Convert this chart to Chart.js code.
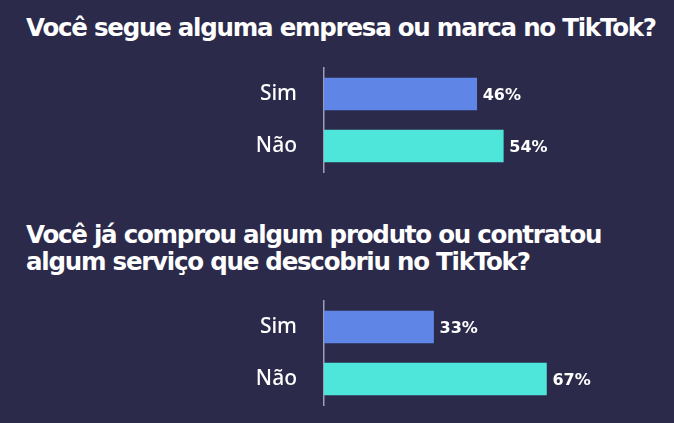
<!DOCTYPE html>
<html><head><meta charset="utf-8">
<script src="https://cdn.jsdelivr.net/npm/chart.js@4"></script>
<style>
html,body{margin:0;padding:0;background:#2c2a4b;width:674px;height:423px;overflow:hidden}
.t{position:absolute;left:26px;color:#ffffff;font-family:'DejaVu Sans';font-weight:bold;white-space:nowrap}
.w{position:absolute;left:0;width:674px;height:120px}
</style></head><body>
<div id="t1" class="t"></div>
<div id="t2" class="t"></div>
<div class="w" style="top:60px"><canvas id="c1"></canvas></div>
<div class="w" style="top:293px"><canvas id="c2"></canvas></div>
<script>
const title1 = ['Você segue alguma empresa ou marca no TikTok?'];
const title2 = ['Você já comprou algum produto ou contratou', 'algum serviço que descobriu no TikTok?'];
const categories = ['Sim', 'Não'];
const values1 = [46, 54];
const values2 = [33, 67];
const barColors = ['#5f86e6', '#4ee5da'];

// title sizing: fixed size, letter-spacing fitted to the first title's width
const fs = 24.5;
const mc = document.createElement('canvas').getContext('2d');
mc.font = "bold " + fs + "px 'DejaVu Sans'";
const w0 = mc.measureText(title1[0]).width;
const ls = (631 - w0) / (title1[0].length - 1);
const LH = 26.5;
function placeTitle(id, lines, baseline) {
  const el = document.getElementById(id);
  el.innerHTML = lines.map(l => l.replace(/&/g,'&amp;')).join('<br>');
  el.style.fontSize = fs + 'px';
  el.style.letterSpacing = ls + 'px';
  el.style.lineHeight = LH + 'px';
  el.style.top = (baseline - LH / 2 - 0.346 * fs) + 'px';
}
placeTitle('t1', title1, 37);
placeTitle('t2', title2, 244);

const valueLabels = {
  id: 'valueLabels',
  afterDatasetsDraw(chart) {
    const ctx = chart.ctx;
    const meta = chart.getDatasetMeta(0);
    const data = chart.data.datasets[0].data;
    ctx.save();
    ctx.fillStyle = '#ffffff';
    ctx.font = "bold 16px 'DejaVu Sans'";
    ctx.textAlign = 'left';
    ctx.textBaseline = 'middle';
    meta.data.forEach((bar, i) => {
      ctx.fillText(data[i] + '%', bar.x + 6, bar.y + 2);
    });
    ctx.restore();
  }
};

function makeChart(id, values) {
  return new Chart(document.getElementById(id), {
    type: 'bar',
    data: {
      labels: categories,
      datasets: [{ data: values, backgroundColor: barColors, borderWidth: 0, barThickness: 32 }]
    },
    options: {
      indexAxis: 'y',
      responsive: true,
      maintainAspectRatio: false,
      animation: false,
      layout: { padding: { top: 8, bottom: 8, left: 0, right: 18 } },
      plugins: { legend: { display: false }, tooltip: { enabled: false }, title: { display: false } },
      scales: {
        x: { display: false, min: 0, max: 100 },
        y: {
          grid: { display: false, drawTicks: false },
          border: { display: true, color: '#9d9db4', width: 1.5 },
          ticks: { color: '#ffffff', font: { family: "'Noto Sans'", size: 21, weight: '500' }, padding: 27 },
          afterFit(s) { s.width = 324; s.paddingTop = 0; s.paddingBottom = 0; }
        }
      }
    },
    plugins: [valueLabels]
  });
}
makeChart('c1', values1);
makeChart('c2', values2);
</script>
</body></html>
